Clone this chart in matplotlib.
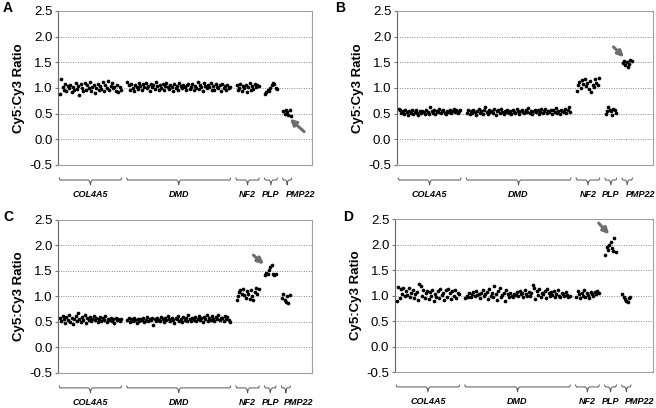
import matplotlib.pyplot as plt
from matplotlib import transforms
import numpy as np

plt.rcParams['font.family'] = ['Liberation Sans', 'DejaVu Sans']

genes = ['COL4A5', 'DMD', 'NF2', 'PLP', 'PMP22']
yticks = [-0.5, 0.0, 0.5, 1.0, 1.5, 2.0, 2.5]

# panel A
a_col4a5 = [0.88, 1.17, 1.02, 0.97, 1.08, 0.95, 1.03, 0.99, 1.06, 0.93, 1.01, 0.96,
            1.09, 0.98, 1.04, 0.86, 1.07, 1.00, 0.95, 1.10, 0.97, 1.05, 0.99, 1.12,
            0.94, 1.02, 1.06, 0.91, 1.00, 1.08, 0.96, 1.03, 0.98, 1.11, 0.94, 1.05,
            1.00, 1.13, 0.97, 1.04, 1.09, 0.99, 1.02, 0.95, 1.06, 0.93, 1.01, 0.97]
a_dmd = [1.12, 1.05, 0.96, 1.08, 1.00, 0.94, 1.06, 1.02, 0.98, 1.10, 1.03, 0.97,
         1.07, 1.01, 1.09, 0.99, 1.04, 0.95, 1.08, 1.02, 1.06, 0.98, 1.11, 1.03,
         0.97, 1.05, 1.00, 1.07, 0.96, 1.04, 1.09, 1.01, 0.98, 1.06, 1.02, 0.95,
         1.08, 1.00, 1.04, 0.97, 1.10, 1.03, 0.99, 1.06, 1.01, 0.96, 1.05, 1.08,
         0.98, 1.02, 1.07, 0.97, 1.04, 1.00, 1.11, 0.98, 1.05, 1.02, 0.95, 1.09,
         1.03, 0.99, 1.06, 1.01, 1.10, 0.97, 1.04, 0.96, 1.08, 1.02, 0.99, 1.05,
         0.95, 1.07, 1.00, 1.03, 0.97, 1.06, 0.99, 1.02]
a_nf2 = [1.05, 0.97, 1.00, 1.08, 0.95, 1.03, 0.99, 1.06, 0.93, 1.02, 1.10, 0.96,
         1.04, 0.98, 1.07, 1.01, 1.05, 1.03]
a_plp = [0.88, 0.92, 0.97, 0.94, 1.00, 1.05, 1.10, 1.07, 1.00, 0.98]
a_pmp22 = [0.55, 0.50, 0.58, 0.53, 0.47, 0.57, 0.45]

# panel B
b_col4a5 = [0.60, 0.57, 0.52, 0.56, 0.50, 0.58, 0.53, 0.48, 0.55, 0.51, 0.57, 0.49,
            0.54, 0.58, 0.52, 0.47, 0.55, 0.51, 0.56, 0.53, 0.50, 0.57, 0.54, 0.49,
            0.62, 0.55, 0.52, 0.58, 0.50, 0.56, 0.53, 0.60, 0.51, 0.55, 0.57, 0.52,
            0.49, 0.56, 0.54, 0.58, 0.51, 0.55, 0.59, 0.53, 0.57, 0.52, 0.56, 0.58]
b_dmd = [0.52, 0.57, 0.49, 0.55, 0.51, 0.58, 0.53, 0.47, 0.56, 0.60, 0.52, 0.55,
         0.49, 0.57, 0.62, 0.54, 0.50, 0.58, 0.53, 0.56, 0.51, 0.59, 0.48, 0.55,
         0.57, 0.52, 0.60, 0.54, 0.50, 0.56, 0.53, 0.58, 0.51, 0.55, 0.49, 0.57,
         0.54, 0.52, 0.59, 0.56, 0.50, 0.55, 0.58, 0.53, 0.51, 0.57, 0.54, 0.61,
         0.52, 0.56, 0.49, 0.55, 0.58, 0.53, 0.57, 0.50, 0.54, 0.60, 0.52, 0.56,
         0.59, 0.51, 0.55, 0.53, 0.58, 0.50, 0.57, 0.54, 0.61, 0.52, 0.55, 0.49,
         0.58, 0.56, 0.53, 0.60, 0.51, 0.57, 0.62, 0.54]
b_nf2 = [0.95, 1.05, 1.12, 1.00, 1.15, 1.08, 1.18, 1.03, 1.10, 0.98, 1.14, 0.92,
         1.06, 1.01, 1.18, 1.10, 1.05, 1.19]
b_plp = [0.50, 0.56, 0.62, 0.58, 0.55, 0.48, 0.60, 0.57, 0.52]
b_pmp22 = [1.48, 1.52, 1.44, 1.50, 1.41, 1.47, 1.55, 1.53]

# panel C
c_col4a5 = [0.58, 0.52, 0.62, 0.55, 0.49, 0.60, 0.54, 0.64, 0.50, 0.57, 0.46, 0.55,
            0.61, 0.52, 0.67, 0.56, 0.50, 0.59, 0.53, 0.63, 0.48, 0.57, 0.54, 0.60,
            0.51, 0.56, 0.62, 0.53, 0.58, 0.50, 0.55, 0.59, 0.52, 0.57, 0.54, 0.61,
            0.50, 0.56, 0.53, 0.58, 0.51, 0.55, 0.49, 0.57, 0.53, 0.56, 0.52, 0.55]
c_dmd = [0.53, 0.57, 0.50, 0.55, 0.52, 0.58, 0.54, 0.49, 0.56, 0.51, 0.55, 0.53,
         0.57, 0.50, 0.54, 0.59, 0.52, 0.56, 0.53, 0.58, 0.44, 0.55, 0.51, 0.57,
         0.54, 0.52, 0.60, 0.55, 0.50, 0.57, 0.53, 0.62, 0.56, 0.51, 0.58, 0.54,
         0.49, 0.57, 0.55, 0.61, 0.52, 0.56, 0.50, 0.59, 0.54, 0.57, 0.51, 0.63,
         0.55, 0.52, 0.58, 0.54, 0.60, 0.51, 0.56, 0.62, 0.53, 0.57, 0.50, 0.59,
         0.55, 0.64, 0.52, 0.58, 0.54, 0.61, 0.56, 0.51, 0.60, 0.55, 0.63, 0.53,
         0.58, 0.57, 0.52, 0.62, 0.56, 0.60, 0.54, 0.50]
c_nf2 = [0.93, 1.00, 1.08, 1.12, 1.05, 1.15, 1.02, 0.98, 1.10, 1.04, 0.96, 1.13,
         1.00, 0.94, 1.08, 1.17, 1.05, 1.15]
c_plp = [1.43, 1.46, 1.44, 1.52, 1.57, 1.62, 1.45, 1.43, 1.44]
c_pmp22 = [0.97, 1.04, 0.93, 0.90, 1.00, 0.88, 1.02]

# panel D
d_col4a5 = [0.90, 1.17, 0.96, 1.12, 1.03, 1.15, 0.99, 1.08, 1.01, 1.14, 0.97, 1.05,
            1.10, 0.95, 1.02, 1.07, 0.92, 1.23, 1.18, 1.00, 1.11, 0.96, 1.04, 1.08,
            0.93, 1.06, 1.00, 1.10, 0.90, 1.03, 0.97, 1.08, 0.95, 1.12, 1.01, 1.05,
            0.91, 1.10, 0.98, 1.13, 1.04, 0.94, 1.08, 1.00, 1.11, 0.96, 1.05, 1.02]
d_dmd = [0.96, 1.00, 0.98, 1.04, 0.97, 1.02, 1.06, 0.99, 1.08, 1.01, 1.03, 0.96,
         1.05, 1.10, 0.99, 1.02, 1.07, 0.94, 1.12, 1.00, 1.05, 0.97, 1.18, 1.03,
         0.92, 1.08, 1.14, 0.98, 1.01, 1.05, 0.89, 1.11, 1.02, 0.98, 1.04, 1.00,
         0.97, 1.03, 1.01, 1.06, 0.99, 1.08, 1.02, 1.05, 0.98, 1.10, 1.03, 1.00,
         1.07, 0.99, 1.04, 1.21, 1.15, 0.94, 1.08, 1.01, 1.12, 0.97, 1.05, 1.02,
         1.09, 0.96, 1.13, 1.04, 0.99, 1.06, 1.01, 1.08, 0.97, 1.03, 1.10, 1.00,
         0.98, 1.05, 1.02, 0.99, 1.06, 1.01, 0.97, 1.00]
d_nf2 = [0.98, 1.08, 1.02, 0.95, 1.05, 1.00, 1.10, 0.97, 1.04, 1.01, 0.96, 1.07,
         1.03, 0.99, 1.06, 1.02, 1.08, 1.05]
d_plp = [1.80, 1.95, 1.90, 2.00, 2.05, 1.93, 1.88, 2.12, 1.85]
d_pmp22 = [1.03, 0.97, 0.93, 0.90, 0.88, 0.95, 0.98]

# arrow (tail, head) per panel, in data units
arrows = {
    'A': ((188, 0.15), (177, 0.40)),
    'B': ((164, 1.80), (172, 1.60)),
    'C': ((149, 1.81), (157, 1.63)),
    'D': ((153, 2.42), (161, 2.20)),
}

GAP = 4
# gene label shift from the group centre (data units), PMP22 sits right
label_shift = [0, 0, 0, 0, 10]


def draw_brace(ax, x0, x1, y_top=-0.085, y_bot=-0.13, color='#555555'):
    """curly brace under the axis, x in data and y in axes fraction"""
    trans = transforms.blended_transform_factory(ax.transData, ax.transAxes)
    xm = (x0 + x1) / 2
    d = min(1.5, (x1 - x0) / 6)
    y_mid = (y_top + y_bot) / 2 + 0.01
    xs = [x0, x0 + d * 0.4, x0 + d, xm - d, xm - d * 0.3, xm, xm + d * 0.3, xm + d,
          x1 - d, x1 - d * 0.4, x1]
    ys = [y_top, y_mid, y_mid, y_mid, y_mid - 0.01, y_bot, y_mid - 0.01, y_mid,
          y_mid, y_mid, y_top]
    ax.plot(xs, ys, color=color, lw=0.7, transform=trans, clip_on=False)


def draw_panel(ax, letter, groups):
    trans = transforms.blended_transform_factory(ax.transData, ax.transAxes)
    start = 0
    for name, vals, shift in zip(genes, groups, label_shift):
        x = start + np.arange(len(vals))
        ax.scatter(x, vals, s=7, color='black', zorder=3, linewidths=0)
        draw_brace(ax, x[0] - 0.5, x[-1] + 0.5)
        ax.text((x[0] + x[-1]) / 2 + shift, -0.19, name, transform=trans, ha='center',
                va='center', fontsize=6.5, fontweight='bold', fontstyle='italic')
        start = x[-1] + 1 + GAP

    ax.set_xlim(-1.5, 194)
    ax.set_ylim(-0.5, 2.5)
    ax.set_yticks(yticks)
    ax.set_yticklabels(['%.1f' % t for t in yticks], fontsize=9.5)
    ax.set_xticks([])
    ax.tick_params(axis='y', length=2, color='#777777', pad=2)
    for y in [0.0, 0.5, 1.0, 1.5, 2.0]:
        ax.axhline(y, color='#8a8a8a', lw=0.7, linestyle=(0, (1, 1.5)), zorder=1)
    for side in ['top', 'right', 'bottom']:
        ax.spines[side].set_color('#a0a0a0')
        ax.spines[side].set_linewidth(0.8)
    ax.spines['left'].set_color('#666666')
    ax.spines['left'].set_linewidth(0.8)
    ax.set_ylabel('Cy5:Cy3 Ratio', fontsize=9.5, fontweight='bold', labelpad=3)

    tail, head = arrows[letter]
    ax.annotate('', xy=head, xytext=tail,
                arrowprops=dict(arrowstyle='-|>', color='#6e6e6e', lw=2.2,
                                mutation_scale=9, shrinkA=0, shrinkB=0))


fig = plt.figure(figsize=(6.56, 4.08), dpi=100)
ax_a = fig.add_axes([0.0884, 0.5956, 0.387, 0.3775])
ax_b = fig.add_axes([0.605, 0.5956, 0.390, 0.3775])
ax_c = fig.add_axes([0.0884, 0.0858, 0.387, 0.375])
ax_d = fig.add_axes([0.602, 0.0882, 0.393, 0.375])

draw_panel(ax_a, 'A', [a_col4a5, a_dmd, a_nf2, a_plp, a_pmp22])
draw_panel(ax_b, 'B', [b_col4a5, b_dmd, b_nf2, b_plp, b_pmp22])
draw_panel(ax_c, 'C', [c_col4a5, c_dmd, c_nf2, c_plp, c_pmp22])
draw_panel(ax_d, 'D', [d_col4a5, d_dmd, d_nf2, d_plp, d_pmp22])

fig.text(8 / 656, 1 - 8 / 408, 'A', fontsize=10, fontweight='bold', ha='center', va='center')
fig.text(340 / 656, 1 - 8 / 408, 'B', fontsize=10, fontweight='bold', ha='center', va='center')
fig.text(8 / 656, 1 - 217 / 408, 'C', fontsize=10, fontweight='bold', ha='center', va='center')
fig.text(348 / 656, 1 - 217 / 408, 'D', fontsize=10, fontweight='bold', ha='center', va='center')

fig.savefig('out.png', dpi=100)
